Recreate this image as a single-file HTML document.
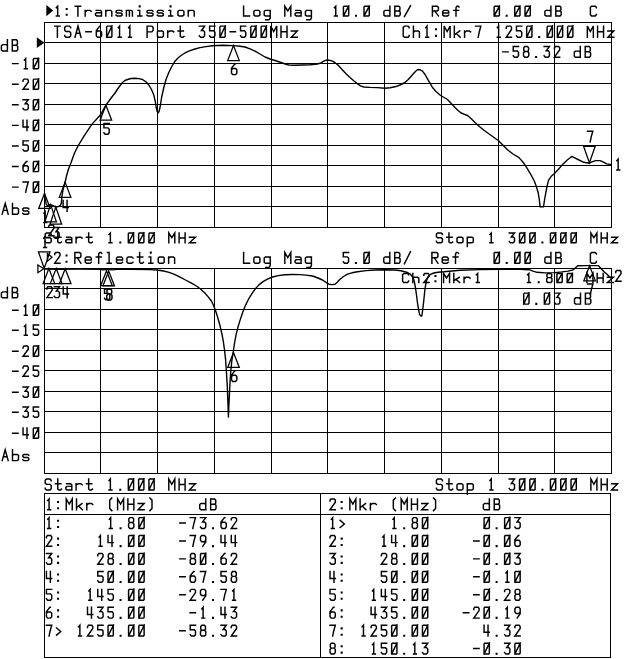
<!DOCTYPE html>
<html><head><meta charset="utf-8"><title>Network analyzer plot</title>
<style>
html,body{margin:0;padding:0;background:#fff;}
svg{display:block;}
text{font-family:"Liberation Mono",monospace;font-size:17.0px;fill:#000;fill-opacity:0;}
.g{fill:none;stroke:#000;stroke-width:1;shape-rendering:crispEdges;}
.t{fill:none;stroke:#000;stroke-width:1.4;stroke-linejoin:round;}
.m{fill:none;stroke:#000;stroke-width:1.25;stroke-linejoin:miter;}
.f{fill:none;stroke:#000;stroke-width:1.45;stroke-linejoin:miter;stroke-linecap:square;}
</style></head><body>
<svg width="640" height="659" viewBox="0 0 640 659">
<rect width="640" height="659" fill="#fff"/>
<path class="g" d="M44 22.5H612"/>
<path class="g" d="M44 42.5H612"/>
<path class="g" d="M44 63.5H612"/>
<path class="g" d="M44 83.5H612"/>
<path class="g" d="M44 104.5H612"/>
<path class="g" d="M44 124.5H612"/>
<path class="g" d="M44 145.5H612"/>
<path class="g" d="M44 165.5H612"/>
<path class="g" d="M44 186.5H612"/>
<path class="g" d="M44 206.5H612"/>
<path class="g" d="M44 227.5H612"/>
<path class="g" d="M44.5 22V228"/>
<path class="g" d="M100.5 22V228"/>
<path class="g" d="M157.5 22V228"/>
<path class="g" d="M214.5 22V228"/>
<path class="g" d="M271.5 22V228"/>
<path class="g" d="M327.5 22V228"/>
<path class="g" d="M384.5 22V228"/>
<path class="g" d="M441.5 22V228"/>
<path class="g" d="M498.5 22V228"/>
<path class="g" d="M554.5 22V228"/>
<path class="g" d="M611.5 22V228"/>
<path class="g" d="M44 268.5H612"/>
<path class="g" d="M44 288.5H612"/>
<path class="g" d="M44 309.5H612"/>
<path class="g" d="M44 329.5H612"/>
<path class="g" d="M44 350.5H612"/>
<path class="g" d="M44 370.5H612"/>
<path class="g" d="M44 391.5H612"/>
<path class="g" d="M44 411.5H612"/>
<path class="g" d="M44 432.5H612"/>
<path class="g" d="M44 452.5H612"/>
<path class="g" d="M44 473.5H612"/>
<path class="g" d="M44.5 268V474"/>
<path class="g" d="M100.5 268V474"/>
<path class="g" d="M157.5 268V474"/>
<path class="g" d="M214.5 268V474"/>
<path class="g" d="M271.5 268V474"/>
<path class="g" d="M327.5 268V474"/>
<path class="g" d="M384.5 268V474"/>
<path class="g" d="M441.5 268V474"/>
<path class="g" d="M498.5 268V474"/>
<path class="g" d="M554.5 268V474"/>
<path class="g" d="M611.5 268V474"/>
<polyline class="t" points="44.5,193.4 45.3,199.0 46.3,204.6 47.8,205.7 50.6,204.6 53.0,205.6 55.8,207.0 58.5,206.6 60.2,205.6 61.3,203.4 61.6,200.0 61.9,196.5 63.0,189.8 64.1,186.0 65.1,182.3 66.5,176.0 68.5,169.0 71.0,162.8 74.5,153.0 78.3,145.5 84.0,136.1 91.8,124.4 100.4,115.0 105.9,105.2 111.5,97.5 115.0,93.0 119.0,87.0 122.5,82.5 125.0,80.5 127.5,79.5 131.0,78.5 135.0,78.2 139.0,78.6 142.5,79.5 146.0,81.8 148.8,85.0 151.5,89.5 153.8,95.0 155.2,101.0 156.2,107.5 157.2,111.5 158.0,113.0 159.0,111.5 160.0,107.5 161.7,97.0 163.8,87.5 166.0,79.5 168.8,72.5 171.8,66.5 175.0,61.2 178.5,57.5 182.5,54.5 186.0,52.4 190.0,50.6 195.0,49.0 200.0,47.6 206.0,46.6 212.5,45.8 222.5,45.2 233.8,45.6 240.0,46.2 245.0,47.0 250.0,48.8 255.0,51.2 260.0,54.0 265.0,57.0 270.0,59.0 275.0,60.5 282.5,63.0 286.0,64.4 288.8,65.0 295.0,65.2 302.5,65.0 310.0,64.8 317.5,64.0 321.0,62.8 323.8,61.2 325.5,60.4 327.5,60.0 330.0,60.4 332.5,61.2 335.0,62.7 338.0,65.0 342.5,70.0 346.0,73.8 350.0,77.5 354.0,81.0 357.5,83.8 360.5,85.8 363.8,87.0 370.0,87.4 377.5,87.6 385.0,88.2 390.0,87.8 395.0,86.8 400.0,85.0 405.0,82.5 408.0,79.8 411.2,76.2 414.0,73.0 416.2,70.8 417.5,69.8 418.8,69.5 420.5,70.0 422.5,71.2 425.0,74.5 427.5,78.8 430.0,83.2 432.5,87.5 436.0,91.5 440.0,95.0 444.0,97.5 447.5,99.5 451.0,103.2 455.0,107.5 458.0,110.5 461.2,113.0 464.5,114.3 467.5,115.5 471.0,118.5 475.0,122.5 480.0,127.0 484.0,130.3 488.1,133.2 493.0,136.8 498.5,140.8 503.0,145.2 507.8,150.0 513.0,154.0 519.0,157.6 523.5,162.8 527.5,168.9 531.0,174.8 534.5,181.5 536.5,187.0 538.2,192.8 539.3,199.5 540.1,206.9 543.5,206.9 544.6,199.5 545.8,192.8 547.1,186.0 548.6,180.1 551.0,176.6 554.2,173.7 558.5,169.3 562.6,164.4 567.0,160.3 571.7,156.5 573.8,157.4 579.0,160.0 583.7,162.3 589.4,163.2 592.5,161.6 595.7,160.6 600.1,160.6 603.5,162.2 606.7,163.9 611.6,164.7"/>
<polyline class="t" points="44.5,269.1 60.0,269.2 80.0,269.1 100.0,269.3 103.0,269.8 108.0,269.3 112.0,269.9 117.0,269.3 130.0,269.3 150.0,269.6 157.0,270.0 163.7,271.0 169.0,272.4 174.6,274.4 180.0,277.2 185.5,280.0 191.0,282.8 196.4,286.0 200.5,289.0 204.6,292.8 208.0,296.6 211.4,301.0 213.6,305.5 215.5,310.5 217.6,317.0 219.6,324.2 221.5,332.0 223.2,340.6 224.5,350.0 225.6,359.7 226.5,373.0 227.3,387.0 227.9,402.0 228.4,417.1 228.9,405.0 229.5,392.5 230.1,381.0 230.8,370.6 231.8,361.0 233.0,353.7 234.4,344.0 236.0,335.1 238.0,327.0 240.1,320.1 242.8,312.0 245.6,305.1 249.0,298.3 252.4,292.8 255.8,288.3 259.2,284.6 263.0,281.6 267.4,279.2 272.5,277.0 278.3,275.6 285.0,274.8 292.0,274.5 300.0,274.6 306.0,275.1 312.5,276.0 318.0,278.0 322.5,280.0 326.0,282.4 328.8,284.2 332.0,284.6 335.0,284.2 337.5,282.0 340.0,279.2 343.5,276.5 347.5,274.2 352.0,272.8 357.5,271.8 366.0,270.6 375.0,270.0 385.0,269.8 395.0,270.0 401.0,270.8 407.5,272.5 410.3,274.2 412.5,276.8 414.2,281.0 415.5,288.0 416.5,295.0 417.5,303.0 418.5,309.0 419.5,314.2 420.6,316.0 421.8,316.0 422.8,309.0 423.8,300.5 424.6,292.5 425.5,285.5 426.7,280.0 428.0,276.8 430.5,274.3 433.8,273.0 438.0,272.2 443.8,271.8 452.0,271.0 460.0,270.3 480.0,269.6 500.0,269.3 520.0,269.3 529.0,269.7 533.0,271.2 537.0,272.3 545.0,272.9 555.0,272.6 562.0,271.9 568.0,271.1 573.0,269.9 575.5,267.8 577.8,265.8 587.0,265.6 598.3,265.6 601.0,268.5 603.8,271.4 607.5,274.8 611.4,278.5"/>
<path class="m" d="M44.5 193.4L38.7 208.4H50.3Z"/>
<path class="m" d="M50.6 204.6L44.8 221.8H56.4Z"/>
<path class="m" d="M55.8 207.0L50.0 224.2H61.6Z"/>
<path class="m" d="M65.1 182.3L59.3 197.3H70.9Z"/>
<path class="m" d="M105.9 105.2L100.1 120.2H111.7Z"/>
<path class="m" d="M233.5 45.6L227.7 60.6H239.3Z"/>
<path class="m" d="M589.4 162.8L583.6 146.3H595.2Z"/>
<path class="m" d="M44.2 268.3L38.4 251.8H50.0Z"/>
<path class="m" d="M48.9 268.6L43.1 283.6H54.7Z"/>
<path class="m" d="M56.2 268.6L50.4 283.6H62.0Z"/>
<path class="m" d="M65.2 268.7L59.4 283.7H71.0Z"/>
<path class="m" d="M106.5 270.7L100.7 285.7H112.3Z"/>
<path class="m" d="M233.5 352.4L227.7 367.4H239.3Z"/>
<path class="m" d="M108.7 270.9L102.9 285.9H114.5Z"/>
<path class="m" d="M589.6 265.8L583.8 280.8H595.4Z"/>
<path d="M36.8 37.3L44.4 42.7L36.8 48.1Z" fill="#000"/>
<path class="m" d="M37.9 264.9L43.8 268.8L37.9 272.7Z"/>
<path d="M46.3 5.0L53.2 10.6L46.3 16.2Z" fill="#000"/>
<path class="m" d="M47.4 253.4L52.0 257.3L47.4 261.2Z"/>
<path class="g" d="M44.5 657.5V493.5H610.5V657.5H44.5M320.5 493V658M44 514.5H611"/>
<g>
<path class="f" d="M43.84 213.16L45.16 211.62L45.16 222.40M43.84 222.40L46.74 222.40"/>
<path class="f" d="M48.62 227.18L48.62 226.17L49.61 225.02L52.91 225.02L53.90 226.17L53.90 228.25L48.62 235.80L53.90 235.80"/>
<path class="f" d="M53.82 227.42L59.10 227.42L55.93 231.73L57.91 231.73L59.10 233.12L59.10 236.81L57.91 238.20L55.01 238.20L53.82 236.81"/>
<path class="f" d="M63.12 200.52L63.12 207.60L68.40 207.60M67.08 200.52L67.08 211.30"/>
<path class="f" d="M109.20 123.42L103.92 123.42L103.92 127.89L108.01 127.89L109.20 129.27L109.20 132.81L108.01 134.20L105.11 134.20L103.92 132.81"/>
<path class="f" d="M235.48 63.82L234.95 63.82L231.52 68.13L231.52 73.21L232.71 74.60L235.61 74.60L236.80 73.21L236.80 69.83L235.61 68.44L232.71 68.44L231.52 69.83"/>
<path class="f" d="M587.52 131.22L592.80 131.22L591.22 136.92L590.16 142.00"/>
<path class="f" d="M43.64 238.26L44.96 236.72L44.96 247.50M43.64 247.50L46.54 247.50"/>
<path class="f" d="M46.92 288.98L46.92 287.98L47.91 286.82L51.21 286.82L52.20 287.98L52.20 290.05L46.92 297.60L52.20 297.60"/>
<path class="f" d="M54.22 286.82L59.50 286.82L56.33 291.13L58.31 291.13L59.50 292.52L59.50 296.21L58.31 297.60L55.41 297.60L54.22 296.21"/>
<path class="f" d="M63.22 286.92L63.22 294.00L68.50 294.00M67.18 286.92L67.18 297.70"/>
<path class="f" d="M109.80 288.92L104.52 288.92L104.52 293.39L108.61 293.39L109.80 294.77L109.80 298.31L108.61 299.70L105.71 299.70L104.52 298.31"/>
<path class="f" d="M235.48 370.62L234.95 370.62L231.52 374.93L231.52 380.01L232.71 381.40L235.61 381.40L236.80 380.01L236.80 376.63L235.61 375.24L232.71 375.24L231.52 376.63"/>
<path class="f" d="M107.91 294.05L106.98 292.97L106.98 290.35L108.04 289.12L110.68 289.12L111.74 290.35L111.74 292.97L110.81 294.05L107.91 294.05L106.72 295.43L106.72 298.51L107.91 299.90L110.81 299.90L112.00 298.51L112.00 295.43L110.81 294.05"/>
<path class="f" d="M587.62 284.02L592.90 284.02L591.32 289.72L590.26 294.80"/>
<path class="f" d="M616.84 160.66L618.16 159.12L618.16 169.90M616.84 169.90L619.74 169.90"/>
<path class="f" d="M615.72 272.58L615.72 271.57L616.71 270.42L620.01 270.42L621.00 271.57L621.00 273.65L615.72 281.20L621.00 281.20"/>
<path class="f" d="M56.34 7.62L57.66 6.24L57.66 15.90M56.34 15.90L59.24 15.90M66.40 14.93L67.00 14.93L67.00 14.38L66.40 14.38ZM66.40 9.28L67.00 9.28L67.00 8.72L66.40 8.72ZM75.20 6.24L80.60 6.24M77.90 6.24L77.90 15.90M85.20 15.90L85.20 10.38M85.20 11.82L87.15 10.38L90.00 10.38L91.20 11.26M96.25 10.38L100.30 10.38L101.50 11.26L101.50 15.90M101.50 12.70L96.70 12.70L95.50 13.58L95.50 15.02L96.70 15.90L101.50 15.90M105.80 15.90L105.80 10.38M105.80 11.48L107.30 10.38L110.60 10.38L111.80 11.26L111.80 15.90M122.10 11.15L121.05 10.38L117.15 10.38L116.10 11.15L116.10 12.26L117.15 13.03L121.05 13.03L122.10 13.80L122.10 15.13L121.05 15.90L117.15 15.90L116.10 15.13M126.40 15.90L126.40 10.38L131.35 10.38L132.40 11.15L132.40 15.90M129.40 10.38L129.40 15.90M139.40 6.86L140.00 6.86L140.00 6.03L139.40 6.03ZM138.05 10.38L139.70 10.38L139.70 15.90M137.75 15.90L141.80 15.90M153.00 11.15L151.95 10.38L148.05 10.38L147.00 11.15L147.00 12.26L148.05 13.03L151.95 13.03L153.00 13.80L153.00 15.13L151.95 15.90L148.05 15.90L147.00 15.13M163.30 11.15L162.25 10.38L158.35 10.38L157.30 11.15L157.30 12.26L158.35 13.03L162.25 13.03L163.30 13.80L163.30 15.13L162.25 15.90L158.35 15.90L157.30 15.13M170.30 6.86L170.90 6.86L170.90 6.03L170.30 6.03ZM168.95 10.38L170.60 10.38L170.60 15.90M168.65 15.90L172.70 15.90M179.10 15.90L182.70 15.90L183.90 15.02L183.90 11.26L182.70 10.38L179.10 10.38L177.90 11.26L177.90 15.02ZM188.20 15.90L188.20 10.38M188.20 11.48L189.70 10.38L193.00 10.38L194.20 11.26L194.20 15.90"/>
<path class="f" d="M243.60 6.24L243.60 15.90L249.60 15.90M255.10 15.90L258.70 15.90L259.90 15.02L259.90 11.26L258.70 10.38L255.10 10.38L253.90 11.26L253.90 15.02ZM270.20 11.26L269.00 10.38L265.40 10.38L264.20 11.26L264.20 15.02L265.40 15.90L270.20 15.90M270.20 10.38L270.20 18.23L269.00 19.67L265.70 19.67M284.80 15.90L284.80 6.24L287.80 10.93L290.80 6.24L290.80 15.90M295.85 10.38L299.90 10.38L301.10 11.26L301.10 15.90M301.10 12.70L296.30 12.70L295.10 13.58L295.10 15.02L296.30 15.90L301.10 15.90M311.40 11.26L310.20 10.38L306.60 10.38L305.40 11.26L305.40 15.02L306.60 15.90L311.40 15.90M311.40 10.38L311.40 18.23L310.20 19.67L306.90 19.67"/>
<path class="f" d="M334.44 7.62L335.76 6.24L335.76 15.90M334.44 15.90L337.34 15.90M344.08 15.90L348.04 15.90L348.70 15.21L348.70 6.93L348.04 6.24L344.08 6.24L343.42 6.93L343.42 15.21ZM343.42 15.90L348.83 5.96M355.70 15.97L356.30 15.97L356.30 15.42L355.70 15.42ZM364.68 15.90L368.64 15.90L369.30 15.21L369.30 6.93L368.64 6.24L364.68 6.24L364.02 6.93L364.02 15.21ZM364.02 15.90L369.43 5.96M389.90 6.24L389.90 15.90L385.10 15.90L383.90 15.02L383.90 11.26L385.10 10.38L388.70 10.38L389.90 11.26M394.80 15.90L394.80 6.24L398.85 6.24L399.93 7.34L399.93 9.83L398.85 10.93L394.80 10.93M398.85 10.93L399.12 10.93L400.20 12.04L400.20 14.80L399.12 15.90L394.80 15.90M404.50 16.45L410.50 5.69"/>
<path class="f" d="M432.40 15.90L432.40 6.24L437.20 6.24L438.40 7.34L438.40 9.97L437.20 11.07L432.40 11.07M434.80 11.07L438.40 15.90M442.70 13.03L448.70 13.03L448.70 11.26L447.50 10.38L443.90 10.38L442.70 11.26L442.70 15.02L443.90 15.90L447.50 15.90L448.70 15.02M459.00 7.07L458.25 6.24L456.90 6.24L456.00 7.69L456.00 15.90M453.60 10.38L458.55 10.38"/>
<path class="f" d="M494.78 15.90L498.74 15.90L499.40 15.21L499.40 6.93L498.74 6.24L494.78 6.24L494.12 6.93L494.12 15.21ZM494.12 15.90L499.53 5.96M506.40 15.97L507.00 15.97L507.00 15.42L506.40 15.42ZM515.38 15.90L519.34 15.90L520.00 15.21L520.00 6.93L519.34 6.24L515.38 6.24L514.72 6.93L514.72 15.21ZM514.72 15.90L520.13 5.96M525.68 15.90L529.64 15.90L530.30 15.21L530.30 6.93L529.64 6.24L525.68 6.24L525.02 6.93L525.02 15.21ZM525.02 15.90L530.43 5.96M550.90 6.24L550.90 15.90L546.10 15.90L544.90 15.02L544.90 11.26L546.10 10.38L549.70 10.38L550.90 11.26M555.80 15.90L555.80 6.24L559.85 6.24L560.93 7.34L560.93 9.83L559.85 10.93L555.80 10.93M559.85 10.93L560.12 10.93L561.20 12.04L561.20 14.80L560.12 15.90L555.80 15.90"/>
<path class="f" d="M596.40 7.76L596.40 7.34L595.20 6.24L591.60 6.24L590.40 7.34L590.40 14.80L591.60 15.90L595.20 15.90L596.40 14.80L596.40 14.38"/>
<path class="f" d="M54.72 254.58L54.72 253.57L55.71 252.42L59.01 252.42L60.00 253.57L60.00 255.65L54.72 263.20L60.00 263.20M66.22 262.12L66.82 262.12L66.82 261.51L66.22 261.51ZM66.22 255.81L66.82 255.81L66.82 255.19L66.22 255.19ZM74.84 263.20L74.84 252.42L79.64 252.42L80.84 253.65L80.84 256.58L79.64 257.81L74.84 257.81M77.24 257.81L80.84 263.20M85.26 260.00L91.26 260.00L91.26 258.03L90.06 257.04L86.46 257.04L85.26 258.03L85.26 262.21L86.46 263.20L90.06 263.20L91.26 262.21M101.68 253.34L100.93 252.42L99.58 252.42L98.68 254.04L98.68 263.20M96.28 257.04L101.23 257.04M107.45 252.42L109.10 252.42L109.10 263.20M107.15 263.20L111.20 263.20M116.52 260.00L122.52 260.00L122.52 258.03L121.32 257.04L117.72 257.04L116.52 258.03L116.52 262.21L117.72 263.20L121.32 263.20L122.52 262.21M132.94 258.03L131.74 257.04L128.14 257.04L126.94 258.03L126.94 262.21L128.14 263.20L131.74 263.20L132.94 262.21M139.61 252.42L139.61 262.21L140.81 263.20L142.31 263.20L143.36 262.34M137.36 257.04L142.76 257.04M150.48 253.11L151.08 253.11L151.08 252.19L150.48 252.19ZM149.13 257.04L150.78 257.04L150.78 263.20M148.83 263.20L152.88 263.20M159.40 263.20L163.00 263.20L164.20 262.21L164.20 258.03L163.00 257.04L159.40 257.04L158.20 258.03L158.20 262.21ZM168.62 263.20L168.62 257.04M168.62 258.27L170.12 257.04L173.42 257.04L174.62 258.03L174.62 263.20"/>
<path class="f" d="M243.60 252.42L243.60 263.20L249.60 263.20M255.10 263.20L258.70 263.20L259.90 262.21L259.90 258.03L258.70 257.04L255.10 257.04L253.90 258.03L253.90 262.21ZM270.20 258.03L269.00 257.04L265.40 257.04L264.20 258.03L264.20 262.21L265.40 263.20L270.20 263.20M270.20 257.04L270.20 265.80L269.00 267.40L265.70 267.40M284.80 263.20L284.80 252.42L287.80 257.66L290.80 252.42L290.80 263.20M295.85 257.04L299.90 257.04L301.10 258.03L301.10 263.20M301.10 259.63L296.30 259.63L295.10 260.61L295.10 262.21L296.30 263.20L301.10 263.20M311.40 258.03L310.20 257.04L306.60 257.04L305.40 258.03L305.40 262.21L306.60 263.20L311.40 263.20M311.40 257.04L311.40 265.80L310.20 267.40L306.90 267.40"/>
<path class="f" d="M348.60 252.42L343.32 252.42L343.32 256.89L347.41 256.89L348.60 258.27L348.60 261.81L347.41 263.20L344.51 263.20L343.32 261.81M355.60 263.28L356.20 263.28L356.20 262.66L355.60 262.66ZM364.58 263.20L368.54 263.20L369.20 262.43L369.20 253.19L368.54 252.42L364.58 252.42L363.92 253.19L363.92 262.43ZM363.92 263.20L369.33 252.11M389.80 252.42L389.80 263.20L385.00 263.20L383.80 262.21L383.80 258.03L385.00 257.04L388.60 257.04L389.80 258.03M394.70 263.20L394.70 252.42L398.75 252.42L399.83 253.65L399.83 256.42L398.75 257.66L394.70 257.66M398.75 257.66L399.02 257.66L400.10 258.89L400.10 261.97L399.02 263.20L394.70 263.20M404.40 263.82L410.40 251.80"/>
<path class="f" d="M431.90 263.20L431.90 252.42L436.70 252.42L437.90 253.65L437.90 256.58L436.70 257.81L431.90 257.81M434.30 257.81L437.90 263.20M442.20 260.00L448.20 260.00L448.20 258.03L447.00 257.04L443.40 257.04L442.20 258.03L442.20 262.21L443.40 263.20L447.00 263.20L448.20 262.21M458.50 253.34L457.75 252.42L456.40 252.42L455.50 254.04L455.50 263.20M453.10 257.04L458.05 257.04"/>
<path class="f" d="M494.78 263.20L498.74 263.20L499.40 262.43L499.40 253.19L498.74 252.42L494.78 252.42L494.12 253.19L494.12 262.43ZM494.12 263.20L499.53 252.11M506.40 263.28L507.00 263.28L507.00 262.66L506.40 262.66ZM515.38 263.20L519.34 263.20L520.00 262.43L520.00 253.19L519.34 252.42L515.38 252.42L514.72 253.19L514.72 262.43ZM514.72 263.20L520.13 252.11M525.68 263.20L529.64 263.20L530.30 262.43L530.30 253.19L529.64 252.42L525.68 252.42L525.02 253.19L525.02 262.43ZM525.02 263.20L530.43 252.11M550.90 252.42L550.90 263.20L546.10 263.20L544.90 262.21L544.90 258.03L546.10 257.04L549.70 257.04L550.90 258.03M555.80 263.20L555.80 252.42L559.85 252.42L560.93 253.65L560.93 256.42L559.85 257.66L555.80 257.66M559.85 257.66L560.12 257.66L561.20 258.89L561.20 261.97L560.12 263.20L555.80 263.20"/>
<path class="f" d="M596.40 254.11L596.40 253.65L595.20 252.42L591.60 252.42L590.40 253.65L590.40 261.97L591.60 263.20L595.20 263.20L596.40 261.97L596.40 261.51"/>
<path class="f" d="M54.70 26.10L60.10 26.10M57.40 26.10L57.40 37.30M70.70 27.86L70.70 27.38L69.50 26.10L65.90 26.10L64.70 27.38L64.70 30.26L65.90 31.54L69.50 31.54L70.70 32.82L70.70 36.02L69.50 37.30L65.90 37.30L64.70 36.02L64.70 35.54M75.00 37.30L78.00 26.10L81.00 37.30M76.12 33.30L79.88 33.30M85.89 31.70L91.30 31.70M100.28 26.10L99.75 26.10L96.32 30.58L96.32 35.86L97.51 37.30L100.41 37.30L101.60 35.86L101.60 32.34L100.41 30.90L97.51 30.90L96.32 32.34M107.28 37.30L111.24 37.30L111.90 36.50L111.90 26.90L111.24 26.10L107.28 26.10L106.62 26.90L106.62 36.50ZM106.62 37.30L112.03 25.78M118.24 27.70L119.56 26.10L119.56 37.30M118.24 37.30L121.14 37.30M128.54 27.70L129.86 26.10L129.86 37.30M128.54 37.30L131.44 37.30M147.10 37.30L147.10 26.10L151.90 26.10L153.10 27.38L153.10 30.58L151.90 31.86L147.10 31.86M158.60 37.30L162.20 37.30L163.40 36.28L163.40 31.92L162.20 30.90L158.60 30.90L157.40 31.92L157.40 36.28ZM167.70 37.30L167.70 30.90M167.70 32.56L169.65 30.90L172.50 30.90L173.70 31.92M180.25 26.10L180.25 36.28L181.45 37.30L182.95 37.30L184.00 36.40M178.00 30.90L183.40 30.90M199.32 26.10L204.60 26.10L201.43 30.58L203.41 30.58L204.60 32.02L204.60 35.86L203.41 37.30L200.51 37.30L199.32 35.86M214.90 26.10L209.62 26.10L209.62 30.74L213.71 30.74L214.90 32.18L214.90 35.86L213.71 37.30L210.81 37.30L209.62 35.86M220.58 37.30L224.54 37.30L225.20 36.50L225.20 26.90L224.54 26.10L220.58 26.10L219.92 26.90L219.92 36.50ZM219.92 37.30L225.33 25.78M230.09 31.70L235.50 31.70M245.80 26.10L240.52 26.10L240.52 30.74L244.61 30.74L245.80 32.18L245.80 35.86L244.61 37.30L241.71 37.30L240.52 35.86M251.48 37.30L255.44 37.30L256.10 36.50L256.10 26.90L255.44 26.10L251.48 26.10L250.82 26.90L250.82 36.50ZM250.82 37.30L256.23 25.78M261.78 37.30L265.74 37.30L266.40 36.50L266.40 26.90L265.74 26.10L261.78 26.10L261.12 26.90L261.12 36.50ZM261.12 37.30L266.53 25.78M270.70 37.30L270.70 26.10L273.70 31.54L276.70 26.10L276.70 37.30M281.00 37.30L281.00 26.10M287.00 37.30L287.00 26.10M281.00 31.70L287.00 31.70M291.30 30.90L297.30 30.90L291.30 37.30L297.30 37.30"/>
<path class="f" d="M409.20 27.86L409.20 27.38L408.00 26.10L404.40 26.10L403.20 27.38L403.20 36.02L404.40 37.30L408.00 37.30L409.20 36.02L409.20 35.54M413.43 26.10L413.43 37.30M413.43 32.18L414.93 30.90L418.23 30.90L419.43 31.92L419.43 37.30M425.70 27.70L427.02 26.10L427.02 37.30M425.70 37.30L428.60 37.30M435.69 36.18L436.29 36.18L436.29 35.54L435.69 35.54ZM435.69 29.62L436.29 29.62L436.29 28.98L435.69 28.98ZM444.12 37.30L444.12 26.10L447.12 31.54L450.12 26.10L450.12 37.30M454.35 26.10L454.35 37.30M454.35 35.00L459.75 30.90M456.45 33.40L460.20 37.30M464.58 37.30L464.58 30.90M464.58 32.56L466.53 30.90L469.38 30.90L470.58 31.92M475.53 26.10L480.81 26.10L479.23 32.02L478.17 37.30M497.31 27.70L498.63 26.10L498.63 37.30M497.31 37.30L500.21 37.30M506.22 28.34L506.22 27.30L507.21 26.10L510.51 26.10L511.50 27.30L511.50 29.46L506.22 37.30L511.50 37.30M521.73 26.10L516.45 26.10L516.45 30.74L520.54 30.74L521.73 32.18L521.73 35.86L520.54 37.30L517.64 37.30L516.45 35.86M527.34 37.30L531.30 37.30L531.96 36.50L531.96 26.90L531.30 26.10L527.34 26.10L526.68 26.90L526.68 36.50ZM526.68 37.30L532.09 25.78M538.89 37.38L539.49 37.38L539.49 36.74L538.89 36.74ZM547.80 37.30L551.76 37.30L552.42 36.50L552.42 26.90L551.76 26.10L547.80 26.10L547.14 26.90L547.14 36.50ZM547.14 37.30L552.55 25.78M558.03 37.30L561.99 37.30L562.65 36.50L562.65 26.90L561.99 26.10L558.03 26.10L557.37 26.90L557.37 36.50ZM557.37 37.30L562.78 25.78M568.26 37.30L572.22 37.30L572.88 36.50L572.88 26.90L572.22 26.10L568.26 26.10L567.60 26.90L567.60 36.50ZM567.60 37.30L573.01 25.78M587.34 37.30L587.34 26.10L590.34 31.54L593.34 26.10L593.34 37.30M597.57 37.30L597.57 26.10M603.57 37.30L603.57 26.10M597.57 31.70L603.57 31.70M607.80 30.90L613.80 30.90L607.80 37.30L613.80 37.30"/>
<path class="f" d="M502.79 51.88L508.20 51.88M518.50 46.56L513.22 46.56L513.22 50.97L517.31 50.97L518.50 52.34L518.50 55.83L517.31 57.20L514.41 57.20L513.22 55.83M524.71 51.42L523.78 50.36L523.78 47.78L524.84 46.56L527.48 46.56L528.54 47.78L528.54 50.36L527.61 51.42L524.71 51.42L523.52 52.79L523.52 55.83L524.71 57.20L527.61 57.20L528.80 55.83L528.80 52.79L527.61 51.42M535.80 57.28L536.40 57.28L536.40 56.67L535.80 56.67ZM544.12 46.56L549.40 46.56L546.23 50.82L548.21 50.82L549.40 52.18L549.40 55.83L548.21 57.20L545.31 57.20L544.12 55.83M554.42 48.69L554.42 47.70L555.41 46.56L558.71 46.56L559.70 47.70L559.70 49.75L554.42 57.20L559.70 57.20M580.30 46.56L580.30 57.20L575.50 57.20L574.30 56.23L574.30 52.09L575.50 51.12L579.10 51.12L580.30 52.09M585.20 57.20L585.20 46.56L589.25 46.56L590.33 47.78L590.33 50.51L589.25 51.73L585.20 51.73M589.25 51.73L589.52 51.73L590.60 52.94L590.60 55.98L589.52 57.20L585.20 57.20"/>
<path class="f" d="M408.60 274.89L408.60 274.50L407.40 273.47L403.80 273.47L402.60 274.50L402.60 281.47L403.80 282.50L407.40 282.50L408.60 281.47L408.60 281.08M412.84 273.47L412.84 282.50M412.84 278.37L414.34 277.34L417.64 277.34L418.84 278.17L418.84 282.50M423.80 275.28L423.80 274.44L424.79 273.47L428.09 273.47L429.08 274.44L429.08 276.18L423.80 282.50L429.08 282.50M435.12 281.60L435.72 281.60L435.72 281.08L435.12 281.08ZM435.12 276.31L435.72 276.31L435.72 275.79L435.12 275.79ZM443.56 282.50L443.56 273.47L446.56 277.86L449.56 273.47L449.56 282.50M453.80 273.47L453.80 282.50M453.80 280.64L459.20 277.34M455.90 279.35L459.65 282.50M464.04 282.50L464.04 277.34M464.04 278.68L465.99 277.34L468.84 277.34L470.04 278.17M476.32 274.76L477.64 273.47L477.64 282.50M476.32 282.50L479.22 282.50M527.52 274.76L528.84 273.47L528.84 282.50M527.52 282.50L530.42 282.50M538.42 282.56L539.02 282.56L539.02 282.05L538.42 282.05ZM547.87 277.60L546.94 276.69L546.94 274.50L548.00 273.47L550.64 273.47L551.70 274.50L551.70 276.69L550.77 277.60L547.87 277.60L546.68 278.76L546.68 281.34L547.87 282.50L550.77 282.50L551.96 281.34L551.96 278.76L550.77 277.60M557.58 282.50L561.54 282.50L562.20 281.86L562.20 274.12L561.54 273.47L557.58 273.47L556.92 274.12L556.92 281.86ZM556.92 282.50L562.33 273.21M567.82 282.50L571.78 282.50L572.44 281.86L572.44 274.12L571.78 273.47L567.82 273.47L567.16 274.12L567.16 281.86ZM567.16 282.50L572.57 273.21M586.92 282.50L586.92 273.47L589.92 277.86L592.92 273.47L592.92 282.50M597.16 282.50L597.16 273.47M603.16 282.50L603.16 273.47M597.16 277.99L603.16 277.99M607.40 277.34L613.40 277.34L607.40 282.50L613.40 282.50"/>
<path class="f" d="M524.38 304.10L528.34 304.10L529.00 303.31L529.00 293.90L528.34 293.11L524.38 293.11L523.72 293.90L523.72 303.31ZM523.72 304.10L529.13 292.80M536.00 304.18L536.60 304.18L536.60 303.55L536.00 303.55ZM544.98 304.10L548.94 304.10L549.60 303.31L549.60 293.90L548.94 293.11L544.98 293.11L544.32 293.90L544.32 303.31ZM544.32 304.10L549.73 292.80M554.62 293.11L559.90 293.11L556.73 297.51L558.71 297.51L559.90 298.92L559.90 302.69L558.71 304.10L555.81 304.10L554.62 302.69M580.50 293.11L580.50 304.10L575.70 304.10L574.50 303.10L574.50 298.82L575.70 297.82L579.30 297.82L580.50 298.82M585.40 304.10L585.40 293.11L589.45 293.11L590.53 294.37L590.53 297.19L589.45 298.45L585.40 298.45M589.45 298.45L589.72 298.45L590.80 299.70L590.80 302.84L589.72 304.10L585.40 304.10"/>
<path class="f" d="M51.20 234.54L51.20 234.12L50.00 233.00L46.40 233.00L45.20 234.12L45.20 236.64L46.40 237.76L50.00 237.76L51.20 238.88L51.20 241.68L50.00 242.80L46.40 242.80L45.20 241.68L45.20 241.26M57.75 233.00L57.75 241.90L58.95 242.80L60.45 242.80L61.50 242.02M55.50 237.20L60.90 237.20M66.55 237.20L70.60 237.20L71.80 238.10L71.80 242.80M71.80 239.55L67.00 239.55L65.80 240.45L65.80 241.90L67.00 242.80L71.80 242.80M76.10 242.80L76.10 237.20M76.10 238.66L78.05 237.20L80.90 237.20L82.10 238.10M88.65 233.00L88.65 241.90L89.85 242.80L91.35 242.80L92.40 242.02M86.40 237.20L91.80 237.20M109.04 234.40L110.36 233.00L110.36 242.80M109.04 242.80L111.94 242.80M120.00 242.87L120.60 242.87L120.60 242.31L120.00 242.31ZM128.98 242.80L132.94 242.80L133.60 242.10L133.60 233.70L132.94 233.00L128.98 233.00L128.32 233.70L128.32 242.10ZM128.32 242.80L133.73 232.72M139.28 242.80L143.24 242.80L143.90 242.10L143.90 233.70L143.24 233.00L139.28 233.00L138.62 233.70L138.62 242.10ZM138.62 242.80L144.03 232.72M149.58 242.80L153.54 242.80L154.20 242.10L154.20 233.70L153.54 233.00L149.58 233.00L148.92 233.70L148.92 242.10ZM148.92 242.80L154.33 232.72M168.80 242.80L168.80 233.00L171.80 237.76L174.80 233.00L174.80 242.80M179.10 242.80L179.10 233.00M185.10 242.80L185.10 233.00M179.10 237.90L185.10 237.90M189.40 237.20L195.40 237.20L189.40 242.80L195.40 242.80"/>
<path class="f" d="M442.40 234.54L442.40 234.12L441.20 233.00L437.60 233.00L436.40 234.12L436.40 236.64L437.60 237.76L441.20 237.76L442.40 238.88L442.40 241.68L441.20 242.80L437.60 242.80L436.40 241.68L436.40 241.26M448.95 233.00L448.95 241.90L450.15 242.80L451.65 242.80L452.70 242.02M446.70 237.20L452.10 237.20M458.20 242.80L461.80 242.80L463.00 241.90L463.00 238.10L461.80 237.20L458.20 237.20L457.00 238.10L457.00 241.90ZM467.30 246.62L467.30 237.20M467.30 238.10L468.50 237.20L472.10 237.20L473.30 238.10L473.30 241.90L472.10 242.80L467.30 242.80M489.94 234.40L491.26 233.00L491.26 242.80M489.94 242.80L492.84 242.80M509.22 233.00L514.50 233.00L511.33 236.92L513.31 236.92L514.50 238.18L514.50 241.54L513.31 242.80L510.41 242.80L509.22 241.54M520.18 242.80L524.14 242.80L524.80 242.10L524.80 233.70L524.14 233.00L520.18 233.00L519.52 233.70L519.52 242.10ZM519.52 242.80L524.93 232.72M530.48 242.80L534.44 242.80L535.10 242.10L535.10 233.70L534.44 233.00L530.48 233.00L529.82 233.70L529.82 242.10ZM529.82 242.80L535.23 232.72M542.10 242.87L542.70 242.87L542.70 242.31L542.10 242.31ZM551.08 242.80L555.04 242.80L555.70 242.10L555.70 233.70L555.04 233.00L551.08 233.00L550.42 233.70L550.42 242.10ZM550.42 242.80L555.83 232.72M561.38 242.80L565.34 242.80L566.00 242.10L566.00 233.70L565.34 233.00L561.38 233.00L560.72 233.70L560.72 242.10ZM560.72 242.80L566.13 232.72M571.68 242.80L575.64 242.80L576.30 242.10L576.30 233.70L575.64 233.00L571.68 233.00L571.02 233.70L571.02 242.10ZM571.02 242.80L576.43 232.72M590.90 242.80L590.90 233.00L593.90 237.76L596.90 233.00L596.90 242.80M601.20 242.80L601.20 233.00M607.20 242.80L607.20 233.00M601.20 237.90L607.20 237.90M611.50 237.20L617.50 237.20L611.50 242.80L617.50 242.80"/>
<path class="f" d="M51.20 480.74L51.20 480.27L50.00 479.01L46.40 479.01L45.20 480.27L45.20 483.09L46.40 484.35L50.00 484.35L51.20 485.60L51.20 488.74L50.00 490.00L46.40 490.00L45.20 488.74L45.20 488.27M57.75 479.01L57.75 489.00L58.95 490.00L60.45 490.00L61.50 489.12M55.50 483.72L60.90 483.72M66.55 483.72L70.60 483.72L71.80 484.72L71.80 490.00M71.80 486.36L67.00 486.36L65.80 487.36L65.80 489.00L67.00 490.00L71.80 490.00M76.10 490.00L76.10 483.72M76.10 485.35L78.05 483.72L80.90 483.72L82.10 484.72M88.65 479.01L88.65 489.00L89.85 490.00L91.35 490.00L92.40 489.12M86.40 483.72L91.80 483.72M109.04 480.58L110.36 479.01L110.36 490.00M109.04 490.00L111.94 490.00M120.00 490.08L120.60 490.08L120.60 489.45L120.00 489.45ZM128.98 490.00L132.94 490.00L133.60 489.21L133.60 479.80L132.94 479.01L128.98 479.01L128.32 479.80L128.32 489.21ZM128.32 490.00L133.73 478.70M139.28 490.00L143.24 490.00L143.90 489.21L143.90 479.80L143.24 479.01L139.28 479.01L138.62 479.80L138.62 489.21ZM138.62 490.00L144.03 478.70M149.58 490.00L153.54 490.00L154.20 489.21L154.20 479.80L153.54 479.01L149.58 479.01L148.92 479.80L148.92 489.21ZM148.92 490.00L154.33 478.70M168.80 490.00L168.80 479.01L171.80 484.35L174.80 479.01L174.80 490.00M179.10 490.00L179.10 479.01M185.10 490.00L185.10 479.01M179.10 484.50L185.10 484.50M189.40 483.72L195.40 483.72L189.40 490.00L195.40 490.00"/>
<path class="f" d="M442.40 480.74L442.40 480.27L441.20 479.01L437.60 479.01L436.40 480.27L436.40 483.09L437.60 484.35L441.20 484.35L442.40 485.60L442.40 488.74L441.20 490.00L437.60 490.00L436.40 488.74L436.40 488.27M448.95 479.01L448.95 489.00L450.15 490.00L451.65 490.00L452.70 489.12M446.70 483.72L452.10 483.72M458.20 490.00L461.80 490.00L463.00 489.00L463.00 484.72L461.80 483.72L458.20 483.72L457.00 484.72L457.00 489.00ZM467.30 494.29L467.30 483.72M467.30 484.72L468.50 483.72L472.10 483.72L473.30 484.72L473.30 489.00L472.10 490.00L467.30 490.00M489.94 480.58L491.26 479.01L491.26 490.00M489.94 490.00L492.84 490.00M509.22 479.01L514.50 479.01L511.33 483.41L513.31 483.41L514.50 484.82L514.50 488.59L513.31 490.00L510.41 490.00L509.22 488.59M520.18 490.00L524.14 490.00L524.80 489.21L524.80 479.80L524.14 479.01L520.18 479.01L519.52 479.80L519.52 489.21ZM519.52 490.00L524.93 478.70M530.48 490.00L534.44 490.00L535.10 489.21L535.10 479.80L534.44 479.01L530.48 479.01L529.82 479.80L529.82 489.21ZM529.82 490.00L535.23 478.70M542.10 490.08L542.70 490.08L542.70 489.45L542.10 489.45ZM551.08 490.00L555.04 490.00L555.70 489.21L555.70 479.80L555.04 479.01L551.08 479.01L550.42 479.80L550.42 489.21ZM550.42 490.00L555.83 478.70M561.38 490.00L565.34 490.00L566.00 489.21L566.00 479.80L565.34 479.01L561.38 479.01L560.72 479.80L560.72 489.21ZM560.72 490.00L566.13 478.70M571.68 490.00L575.64 490.00L576.30 489.21L576.30 479.80L575.64 479.01L571.68 479.01L571.02 479.80L571.02 489.21ZM571.02 490.00L576.43 478.70M590.90 490.00L590.90 479.01L593.90 484.35L596.90 479.01L596.90 490.00M601.20 490.00L601.20 479.01M607.20 490.00L607.20 479.01M601.20 484.50L607.20 484.50M611.50 483.72L617.50 483.72L611.50 490.00L617.50 490.00"/>
<path class="f" d="M7.40 39.80L7.40 51.00L2.60 51.00L1.40 49.98L1.40 45.62L2.60 44.60L6.20 44.60L7.40 45.62M12.30 51.00L12.30 39.80L16.35 39.80L17.43 41.08L17.43 43.96L16.35 45.24L12.30 45.24M16.35 45.24L16.62 45.24L17.70 46.52L17.70 49.72L16.62 51.00L12.30 51.00"/>
<path class="f" d="M12.59 63.62L18.00 63.62M24.34 60.00L25.66 58.55L25.66 68.70M24.34 68.70L27.24 68.70M33.98 68.70L37.94 68.70L38.60 67.98L38.60 59.28L37.94 58.55L33.98 58.55L33.32 59.28L33.32 67.98ZM33.32 68.70L38.73 58.26"/>
<path class="f" d="M12.59 84.20L18.00 84.20M23.02 81.16L23.02 80.22L24.01 79.13L27.31 79.13L28.30 80.22L28.30 82.17L23.02 89.28L28.30 89.28M33.98 89.28L37.94 89.28L38.60 88.56L38.60 79.86L37.94 79.13L33.98 79.13L33.32 79.86L33.32 88.56ZM33.32 89.28L38.73 78.84"/>
<path class="f" d="M12.59 104.78L18.00 104.78M23.02 99.71L28.30 99.71L25.13 103.77L27.11 103.77L28.30 105.08L28.30 108.55L27.11 109.86L24.21 109.86L23.02 108.55M33.98 109.86L37.94 109.86L38.60 109.14L38.60 100.44L37.94 99.71L33.98 99.71L33.32 100.44L33.32 109.14ZM33.32 109.86L38.73 99.42"/>
<path class="f" d="M12.59 125.36L18.00 125.36M23.02 120.29L23.02 126.96L28.30 126.96M26.98 120.29L26.98 130.44M33.98 130.44L37.94 130.44L38.60 129.72L38.60 121.02L37.94 120.29L33.98 120.29L33.32 121.02L33.32 129.72ZM33.32 130.44L38.73 120.00"/>
<path class="f" d="M12.59 145.94L18.00 145.94M28.30 140.87L23.02 140.87L23.02 145.07L27.11 145.07L28.30 146.38L28.30 149.71L27.11 151.02L24.21 151.02L23.02 149.71M33.98 151.02L37.94 151.02L38.60 150.29L38.60 141.59L37.94 140.87L33.98 140.87L33.32 141.59L33.32 150.29ZM33.32 151.02L38.73 140.58"/>
<path class="f" d="M12.59 166.53L18.00 166.53M26.98 161.45L26.45 161.45L23.02 165.51L23.02 170.29L24.21 171.60L27.11 171.60L28.30 170.29L28.30 167.10L27.11 165.80L24.21 165.80L23.02 167.10M33.98 171.60L37.94 171.60L38.60 170.88L38.60 162.17L37.94 161.45L33.98 161.45L33.32 162.17L33.32 170.88ZM33.32 171.60L38.73 161.16"/>
<path class="f" d="M12.59 187.11L18.00 187.11M23.02 182.03L28.30 182.03L26.72 187.40L25.66 192.18M33.98 192.18L37.94 192.18L38.60 191.46L38.60 182.75L37.94 182.03L33.98 182.03L33.32 182.75L33.32 191.46ZM33.32 192.18L38.73 181.74"/>
<path class="f" d="M2.20 214.20L5.20 203.42L8.20 214.20M3.33 210.35L7.08 210.35M12.50 203.42L12.50 214.20L17.30 214.20L18.50 213.21L18.50 209.03L17.30 208.04L13.70 208.04L12.50 209.03M28.80 208.90L27.75 208.04L23.85 208.04L22.80 208.90L22.80 210.13L23.85 211.00L27.75 211.00L28.80 211.86L28.80 213.34L27.75 214.20L23.85 214.20L22.80 213.34"/>
<path class="f" d="M7.40 287.44L7.40 297.80L2.60 297.80L1.40 296.85L1.40 292.83L2.60 291.88L6.20 291.88L7.40 292.83M12.30 297.80L12.30 287.44L16.35 287.44L17.43 288.62L17.43 291.29L16.35 292.47L12.30 292.47M16.35 292.47L16.62 292.47L17.70 293.66L17.70 296.62L16.62 297.80L12.30 297.80"/>
<path class="f" d="M12.59 310.19L18.00 310.19M24.34 306.54L25.66 305.08L25.66 315.30M24.34 315.30L27.24 315.30M33.98 315.30L37.94 315.30L38.60 314.57L38.60 305.81L37.94 305.08L33.98 305.08L33.32 305.81L33.32 314.57ZM33.32 315.30L38.73 304.79"/>
<path class="f" d="M12.59 330.19L18.00 330.19M24.34 326.54L25.66 325.08L25.66 335.30M24.34 335.30L27.24 335.30M38.60 325.08L33.32 325.08L33.32 329.31L37.41 329.31L38.60 330.63L38.60 333.99L37.41 335.30L34.51 335.30L33.32 333.99"/>
<path class="f" d="M12.59 351.19L18.00 351.19M23.02 348.12L23.02 347.18L24.01 346.08L27.31 346.08L28.30 347.18L28.30 349.15L23.02 356.30L28.30 356.30M33.98 356.30L37.94 356.30L38.60 355.57L38.60 346.81L37.94 346.08L33.98 346.08L33.32 346.81L33.32 355.57ZM33.32 356.30L38.73 345.79"/>
<path class="f" d="M12.59 371.19L18.00 371.19M23.02 368.12L23.02 367.18L24.01 366.08L27.31 366.08L28.30 367.18L28.30 369.15L23.02 376.30L28.30 376.30M38.60 366.08L33.32 366.08L33.32 370.31L37.41 370.31L38.60 371.63L38.60 374.99L37.41 376.30L34.51 376.30L33.32 374.99"/>
<path class="f" d="M12.59 392.19L18.00 392.19M23.02 387.08L28.30 387.08L25.13 391.17L27.11 391.17L28.30 392.48L28.30 395.99L27.11 397.30L24.21 397.30L23.02 395.99M33.98 397.30L37.94 397.30L38.60 396.57L38.60 387.81L37.94 387.08L33.98 387.08L33.32 387.81L33.32 396.57ZM33.32 397.30L38.73 386.79"/>
<path class="f" d="M12.59 412.19L18.00 412.19M23.02 407.08L28.30 407.08L25.13 411.17L27.11 411.17L28.30 412.48L28.30 415.99L27.11 417.30L24.21 417.30L23.02 415.99M38.60 407.08L33.32 407.08L33.32 411.31L37.41 411.31L38.60 412.63L38.60 415.99L37.41 417.30L34.51 417.30L33.32 415.99"/>
<path class="f" d="M12.59 433.19L18.00 433.19M23.02 428.08L23.02 434.80L28.30 434.80M26.98 428.08L26.98 438.30M33.98 438.30L37.94 438.30L38.60 437.57L38.60 428.81L37.94 428.08L33.98 428.08L33.32 428.81L33.32 437.57ZM33.32 438.30L38.73 427.79"/>
<path class="f" d="M2.20 460.60L5.20 449.82L8.20 460.60M3.33 456.75L7.08 456.75M12.50 449.82L12.50 460.60L17.30 460.60L18.50 459.61L18.50 455.43L17.30 454.44L13.70 454.44L12.50 455.43M28.80 455.30L27.75 454.44L23.85 454.44L22.80 455.30L22.80 456.53L23.85 457.40L27.75 457.40L28.80 458.26L28.80 459.74L27.75 460.60L23.85 460.60L22.80 459.74"/>
<path class="f" d="M47.74 500.46L49.06 498.92L49.06 509.70M47.74 509.70L50.64 509.70M57.77 508.62L58.37 508.62L58.37 508.01L57.77 508.01ZM57.77 502.31L58.37 502.31L58.37 501.69L57.77 501.69ZM66.24 509.70L66.24 498.92L69.24 504.16L72.24 498.92L72.24 509.70M76.51 498.92L76.51 509.70M76.51 507.48L81.91 503.54M78.61 505.94L82.36 509.70M86.78 509.70L86.78 503.54M86.78 505.14L88.73 503.54L91.58 503.54L92.78 504.53M111.82 498.00L109.72 500.15L109.72 508.47L111.82 510.62M117.59 509.70L117.59 498.92L120.59 504.16L123.59 498.92L123.59 509.70M127.86 509.70L127.86 498.92M133.86 509.70L133.86 498.92M127.86 504.31L133.86 504.31M138.13 503.54L144.13 503.54L138.13 509.70L144.13 509.70M149.90 498.00L152.00 500.15L152.00 508.47L149.90 510.62M205.75 498.92L205.75 509.70L200.95 509.70L199.75 508.71L199.75 504.53L200.95 503.54L204.55 503.54L205.75 504.53M210.62 509.70L210.62 498.92L214.67 498.92L215.75 500.15L215.75 502.92L214.67 504.16L210.62 504.16M214.67 504.16L214.94 504.16L216.02 505.39L216.02 508.47L214.94 509.70L210.62 509.70"/>
<path class="f" d="M47.74 519.16L49.06 517.62L49.06 528.40M47.74 528.40L50.64 528.40M57.77 527.32L58.37 527.32L58.37 526.71L57.77 526.71ZM57.77 521.01L58.37 521.01L58.37 520.39L57.77 520.39ZM109.36 519.16L110.68 517.62L110.68 528.40M109.36 528.40L112.26 528.40M120.29 528.48L120.89 528.48L120.89 527.86L120.29 527.86ZM129.77 522.55L128.84 521.47L128.84 518.85L129.90 517.62L132.54 517.62L133.60 518.85L133.60 521.47L132.67 522.55L129.77 522.55L128.58 523.93L128.58 527.01L129.77 528.40L132.67 528.40L133.86 527.01L133.86 523.93L132.67 522.55M139.51 528.40L143.47 528.40L144.13 527.63L144.13 518.39L143.47 517.62L139.51 517.62L138.85 518.39L138.85 527.63ZM138.85 528.40L144.26 517.31M179.80 523.01L185.21 523.01M190.20 517.62L195.48 517.62L193.90 523.32L192.84 528.40M200.47 517.62L205.75 517.62L202.58 521.93L204.56 521.93L205.75 523.32L205.75 527.01L204.56 528.40L201.66 528.40L200.47 527.01M212.72 528.48L213.32 528.48L213.32 527.86L212.72 527.86ZM224.97 517.62L224.44 517.62L221.01 521.93L221.01 527.01L222.20 528.40L225.10 528.40L226.29 527.01L226.29 523.63L225.10 522.24L222.20 522.24L221.01 523.63M231.28 519.78L231.28 518.77L232.27 517.62L235.57 517.62L236.56 518.77L236.56 520.85L231.28 528.40L236.56 528.40"/>
<path class="f" d="M46.42 537.72L46.42 536.72L47.41 535.56L50.71 535.56L51.70 536.72L51.70 538.79L46.42 546.34L51.70 546.34M57.77 545.26L58.37 545.26L58.37 544.65L57.77 544.65ZM57.77 538.95L58.37 538.95L58.37 538.33L57.77 538.33ZM99.09 537.10L100.41 535.56L100.41 546.34M99.09 546.34L101.99 546.34M108.04 535.56L108.04 542.64L113.32 542.64M112.00 535.56L112.00 546.34M120.29 546.42L120.89 546.42L120.89 545.80L120.29 545.80ZM129.24 546.34L133.20 546.34L133.86 545.57L133.86 536.33L133.20 535.56L129.24 535.56L128.58 536.33L128.58 545.57ZM128.58 546.34L133.99 535.25M139.51 546.34L143.47 546.34L144.13 545.57L144.13 536.33L143.47 535.56L139.51 535.56L138.85 536.33L138.85 545.57ZM138.85 546.34L144.26 535.25M179.80 540.95L185.21 540.95M190.20 535.56L195.48 535.56L193.90 541.26L192.84 546.34M202.71 546.34L205.75 542.03L205.75 536.95L204.56 535.56L201.66 535.56L200.47 536.95L200.47 540.33L201.66 541.72L204.56 541.72L205.75 540.33M212.72 546.42L213.32 546.42L213.32 545.80L212.72 545.80ZM221.01 535.56L221.01 542.64L226.29 542.64M224.97 535.56L224.97 546.34M231.28 535.56L231.28 542.64L236.56 542.64M235.24 535.56L235.24 546.34"/>
<path class="f" d="M46.42 553.50L51.70 553.50L48.53 557.81L50.51 557.81L51.70 559.20L51.70 562.89L50.51 564.28L47.61 564.28L46.42 562.89M57.77 563.20L58.37 563.20L58.37 562.59L57.77 562.59ZM57.77 556.89L58.37 556.89L58.37 556.27L57.77 556.27ZM97.77 555.66L97.77 554.65L98.76 553.50L102.06 553.50L103.05 554.65L103.05 556.73L97.77 564.28L103.05 564.28M109.23 558.43L108.30 557.35L108.30 554.73L109.36 553.50L112.00 553.50L113.06 554.73L113.06 557.35L112.13 558.43L109.23 558.43L108.04 559.81L108.04 562.89L109.23 564.28L112.13 564.28L113.32 562.89L113.32 559.81L112.13 558.43M120.29 564.36L120.89 564.36L120.89 563.74L120.29 563.74ZM129.24 564.28L133.20 564.28L133.86 563.51L133.86 554.27L133.20 553.50L129.24 553.50L128.58 554.27L128.58 563.51ZM128.58 564.28L133.99 553.19M139.51 564.28L143.47 564.28L144.13 563.51L144.13 554.27L143.47 553.50L139.51 553.50L138.85 554.27L138.85 563.51ZM138.85 564.28L144.26 553.19M179.80 558.89L185.21 558.89M191.39 558.43L190.46 557.35L190.46 554.73L191.52 553.50L194.16 553.50L195.22 554.73L195.22 557.35L194.29 558.43L191.39 558.43L190.20 559.81L190.20 562.89L191.39 564.28L194.29 564.28L195.48 562.89L195.48 559.81L194.29 558.43M201.13 564.28L205.09 564.28L205.75 563.51L205.75 554.27L205.09 553.50L201.13 553.50L200.47 554.27L200.47 563.51ZM200.47 564.28L205.88 553.19M212.72 564.36L213.32 564.36L213.32 563.74L212.72 563.74ZM224.97 553.50L224.44 553.50L221.01 557.81L221.01 562.89L222.20 564.28L225.10 564.28L226.29 562.89L226.29 559.51L225.10 558.12L222.20 558.12L221.01 559.51M231.28 555.66L231.28 554.65L232.27 553.50L235.57 553.50L236.56 554.65L236.56 556.73L231.28 564.28L236.56 564.28"/>
<path class="f" d="M46.42 571.44L46.42 578.52L51.70 578.52M50.38 571.44L50.38 582.22M57.77 581.14L58.37 581.14L58.37 580.53L57.77 580.53ZM57.77 574.83L58.37 574.83L58.37 574.21L57.77 574.21ZM103.05 571.44L97.77 571.44L97.77 575.91L101.86 575.91L103.05 577.29L103.05 580.83L101.86 582.22L98.96 582.22L97.77 580.83M108.70 582.22L112.66 582.22L113.32 581.45L113.32 572.21L112.66 571.44L108.70 571.44L108.04 572.21L108.04 581.45ZM108.04 582.22L113.45 571.13M120.29 582.30L120.89 582.30L120.89 581.68L120.29 581.68ZM129.24 582.22L133.20 582.22L133.86 581.45L133.86 572.21L133.20 571.44L129.24 571.44L128.58 572.21L128.58 581.45ZM128.58 582.22L133.99 571.13M139.51 582.22L143.47 582.22L144.13 581.45L144.13 572.21L143.47 571.44L139.51 571.44L138.85 572.21L138.85 581.45ZM138.85 582.22L144.26 571.13M179.80 576.83L185.21 576.83M194.16 571.44L193.63 571.44L190.20 575.75L190.20 580.83L191.39 582.22L194.29 582.22L195.48 580.83L195.48 577.45L194.29 576.06L191.39 576.06L190.20 577.45M200.47 571.44L205.75 571.44L204.17 577.14L203.11 582.22M212.72 582.30L213.32 582.30L213.32 581.68L212.72 581.68ZM226.29 571.44L221.01 571.44L221.01 575.91L225.10 575.91L226.29 577.29L226.29 580.83L225.10 582.22L222.20 582.22L221.01 580.83M232.47 576.37L231.54 575.29L231.54 572.67L232.60 571.44L235.24 571.44L236.30 572.67L236.30 575.29L235.37 576.37L232.47 576.37L231.28 577.75L231.28 580.83L232.47 582.22L235.37 582.22L236.56 580.83L236.56 577.75L235.37 576.37"/>
<path class="f" d="M51.70 589.38L46.42 589.38L46.42 593.85L50.51 593.85L51.70 595.23L51.70 598.77L50.51 600.16L47.61 600.16L46.42 598.77M57.77 599.08L58.37 599.08L58.37 598.47L57.77 598.47ZM57.77 592.77L58.37 592.77L58.37 592.15L57.77 592.15ZM88.82 590.92L90.14 589.38L90.14 600.16M88.82 600.16L91.72 600.16M97.77 589.38L97.77 596.46L103.05 596.46M101.73 589.38L101.73 600.16M113.32 589.38L108.04 589.38L108.04 593.85L112.13 593.85L113.32 595.23L113.32 598.77L112.13 600.16L109.23 600.16L108.04 598.77M120.29 600.24L120.89 600.24L120.89 599.62L120.29 599.62ZM129.24 600.16L133.20 600.16L133.86 599.39L133.86 590.15L133.20 589.38L129.24 589.38L128.58 590.15L128.58 599.39ZM128.58 600.16L133.99 589.07M139.51 600.16L143.47 600.16L144.13 599.39L144.13 590.15L143.47 589.38L139.51 589.38L138.85 590.15L138.85 599.39ZM138.85 600.16L144.26 589.07M179.80 594.77L185.21 594.77M190.20 591.54L190.20 590.53L191.19 589.38L194.49 589.38L195.48 590.53L195.48 592.61L190.20 600.16L195.48 600.16M202.71 600.16L205.75 595.85L205.75 590.77L204.56 589.38L201.66 589.38L200.47 590.77L200.47 594.15L201.66 595.54L204.56 595.54L205.75 594.15M212.72 600.24L213.32 600.24L213.32 599.62L212.72 599.62ZM221.01 589.38L226.29 589.38L224.71 595.08L223.65 600.16M232.60 590.92L233.92 589.38L233.92 600.16M232.60 600.16L235.50 600.16"/>
<path class="f" d="M50.38 607.32L49.85 607.32L46.42 611.63L46.42 616.71L47.61 618.10L50.51 618.10L51.70 616.71L51.70 613.33L50.51 611.94L47.61 611.94L46.42 613.33M57.77 617.02L58.37 617.02L58.37 616.41L57.77 616.41ZM57.77 610.71L58.37 610.71L58.37 610.09L57.77 610.09ZM87.50 607.32L87.50 614.40L92.78 614.40M91.46 607.32L91.46 618.10M97.77 607.32L103.05 607.32L99.88 611.63L101.86 611.63L103.05 613.02L103.05 616.71L101.86 618.10L98.96 618.10L97.77 616.71M113.32 607.32L108.04 607.32L108.04 611.79L112.13 611.79L113.32 613.17L113.32 616.71L112.13 618.10L109.23 618.10L108.04 616.71M120.29 618.18L120.89 618.18L120.89 617.56L120.29 617.56ZM129.24 618.10L133.20 618.10L133.86 617.33L133.86 608.09L133.20 607.32L129.24 607.32L128.58 608.09L128.58 617.33ZM128.58 618.10L133.99 607.01M139.51 618.10L143.47 618.10L144.13 617.33L144.13 608.09L143.47 607.32L139.51 607.32L138.85 608.09L138.85 617.33ZM138.85 618.10L144.26 607.01M190.07 612.71L195.48 612.71M201.79 608.86L203.11 607.32L203.11 618.10M201.79 618.10L204.69 618.10M212.72 618.18L213.32 618.18L213.32 617.56L212.72 617.56ZM221.01 607.32L221.01 614.40L226.29 614.40M224.97 607.32L224.97 618.10M231.28 607.32L236.56 607.32L233.39 611.63L235.37 611.63L236.56 613.02L236.56 616.71L235.37 618.10L232.47 618.10L231.28 616.71"/>
<path class="f" d="M46.42 625.26L51.70 625.26L50.12 630.96L49.06 636.04M56.57 628.03L60.77 631.57L56.57 635.12M78.55 626.80L79.87 625.26L79.87 636.04M78.55 636.04L81.45 636.04M87.50 627.42L87.50 626.41L88.49 625.26L91.79 625.26L92.78 626.41L92.78 628.49L87.50 636.04L92.78 636.04M103.05 625.26L97.77 625.26L97.77 629.73L101.86 629.73L103.05 631.11L103.05 634.65L101.86 636.04L98.96 636.04L97.77 634.65M108.70 636.04L112.66 636.04L113.32 635.27L113.32 626.03L112.66 625.26L108.70 625.26L108.04 626.03L108.04 635.27ZM108.04 636.04L113.45 624.95M120.29 636.12L120.89 636.12L120.89 635.50L120.29 635.50ZM129.24 636.04L133.20 636.04L133.86 635.27L133.86 626.03L133.20 625.26L129.24 625.26L128.58 626.03L128.58 635.27ZM128.58 636.04L133.99 624.95M139.51 636.04L143.47 636.04L144.13 635.27L144.13 626.03L143.47 625.26L139.51 625.26L138.85 626.03L138.85 635.27ZM138.85 636.04L144.26 624.95M179.80 630.65L185.21 630.65M195.48 625.26L190.20 625.26L190.20 629.73L194.29 629.73L195.48 631.11L195.48 634.65L194.29 636.04L191.39 636.04L190.20 634.65M201.66 630.19L200.73 629.11L200.73 626.49L201.79 625.26L204.43 625.26L205.49 626.49L205.49 629.11L204.56 630.19L201.66 630.19L200.47 631.57L200.47 634.65L201.66 636.04L204.56 636.04L205.75 634.65L205.75 631.57L204.56 630.19M212.72 636.12L213.32 636.12L213.32 635.50L212.72 635.50ZM221.01 625.26L226.29 625.26L223.12 629.57L225.10 629.57L226.29 630.96L226.29 634.65L225.10 636.04L222.20 636.04L221.01 634.65M231.28 627.42L231.28 626.41L232.27 625.26L235.57 625.26L236.56 626.41L236.56 628.49L231.28 636.04L236.56 636.04"/>
<path class="f" d="M330.02 501.08L330.02 500.07L331.01 498.92L334.31 498.92L335.30 500.07L335.30 502.15L330.02 509.70L335.30 509.70M341.37 508.62L341.97 508.62L341.97 508.01L341.37 508.01ZM341.37 502.31L341.97 502.31L341.97 501.69L341.37 501.69ZM349.84 509.70L349.84 498.92L352.84 504.16L355.84 498.92L355.84 509.70M360.11 498.92L360.11 509.70M360.11 507.48L365.51 503.54M362.21 505.94L365.96 509.70M370.38 509.70L370.38 503.54M370.38 505.14L372.33 503.54L375.18 503.54L376.38 504.53M395.42 498.00L393.32 500.15L393.32 508.47L395.42 510.62M401.19 509.70L401.19 498.92L404.19 504.16L407.19 498.92L407.19 509.70M411.46 509.70L411.46 498.92M417.46 509.70L417.46 498.92M411.46 504.31L417.46 504.31M421.73 503.54L427.73 503.54L421.73 509.70L427.73 509.70M433.50 498.00L435.60 500.15L435.60 508.47L433.50 510.62M489.35 498.92L489.35 509.70L484.55 509.70L483.35 508.71L483.35 504.53L484.55 503.54L488.15 503.54L489.35 504.53M494.22 509.70L494.22 498.92L498.27 498.92L499.35 500.15L499.35 502.92L498.27 504.16L494.22 504.16M498.27 504.16L498.54 504.16L499.62 505.39L499.62 508.47L498.54 509.70L494.22 509.70"/>
<path class="f" d="M331.34 519.16L332.66 517.62L332.66 528.40M331.34 528.40L334.24 528.40M340.17 520.39L344.37 523.93L340.17 527.48M392.96 519.16L394.28 517.62L394.28 528.40M392.96 528.40L395.86 528.40M403.89 528.48L404.49 528.48L404.49 527.86L403.89 527.86ZM413.37 522.55L412.44 521.47L412.44 518.85L413.50 517.62L416.14 517.62L417.20 518.85L417.20 521.47L416.27 522.55L413.37 522.55L412.18 523.93L412.18 527.01L413.37 528.40L416.27 528.40L417.46 527.01L417.46 523.93L416.27 522.55M423.11 528.40L427.07 528.40L427.73 527.63L427.73 518.39L427.07 517.62L423.11 517.62L422.45 518.39L422.45 527.63ZM422.45 528.40L427.86 517.31M484.73 528.40L488.69 528.40L489.35 527.63L489.35 518.39L488.69 517.62L484.73 517.62L484.07 518.39L484.07 527.63ZM484.07 528.40L489.48 517.31M496.32 528.48L496.92 528.48L496.92 527.86L496.32 527.86ZM505.27 528.40L509.23 528.40L509.89 527.63L509.89 518.39L509.23 517.62L505.27 517.62L504.61 518.39L504.61 527.63ZM504.61 528.40L510.02 517.31M514.88 517.62L520.16 517.62L516.99 521.93L518.97 521.93L520.16 523.32L520.16 527.01L518.97 528.40L516.07 528.40L514.88 527.01"/>
<path class="f" d="M330.02 537.72L330.02 536.72L331.01 535.56L334.31 535.56L335.30 536.72L335.30 538.79L330.02 546.34L335.30 546.34M341.37 545.26L341.97 545.26L341.97 544.65L341.37 544.65ZM341.37 538.95L341.97 538.95L341.97 538.33L341.37 538.33ZM382.69 537.10L384.01 535.56L384.01 546.34M382.69 546.34L385.59 546.34M391.64 535.56L391.64 542.64L396.92 542.64M395.60 535.56L395.60 546.34M403.89 546.42L404.49 546.42L404.49 545.80L403.89 545.80ZM412.84 546.34L416.80 546.34L417.46 545.57L417.46 536.33L416.80 535.56L412.84 535.56L412.18 536.33L412.18 545.57ZM412.18 546.34L417.59 535.25M423.11 546.34L427.07 546.34L427.73 545.57L427.73 536.33L427.07 535.56L423.11 535.56L422.45 536.33L422.45 545.57ZM422.45 546.34L427.86 535.25M473.67 540.95L479.08 540.95M484.73 546.34L488.69 546.34L489.35 545.57L489.35 536.33L488.69 535.56L484.73 535.56L484.07 536.33L484.07 545.57ZM484.07 546.34L489.48 535.25M496.32 546.42L496.92 546.42L496.92 545.80L496.32 545.80ZM505.27 546.34L509.23 546.34L509.89 545.57L509.89 536.33L509.23 535.56L505.27 535.56L504.61 536.33L504.61 545.57ZM504.61 546.34L510.02 535.25M518.84 535.56L518.31 535.56L514.88 539.87L514.88 544.95L516.07 546.34L518.97 546.34L520.16 544.95L520.16 541.57L518.97 540.18L516.07 540.18L514.88 541.57"/>
<path class="f" d="M330.02 553.50L335.30 553.50L332.13 557.81L334.11 557.81L335.30 559.20L335.30 562.89L334.11 564.28L331.21 564.28L330.02 562.89M341.37 563.20L341.97 563.20L341.97 562.59L341.37 562.59ZM341.37 556.89L341.97 556.89L341.97 556.27L341.37 556.27ZM381.37 555.66L381.37 554.65L382.36 553.50L385.66 553.50L386.65 554.65L386.65 556.73L381.37 564.28L386.65 564.28M392.83 558.43L391.90 557.35L391.90 554.73L392.96 553.50L395.60 553.50L396.66 554.73L396.66 557.35L395.73 558.43L392.83 558.43L391.64 559.81L391.64 562.89L392.83 564.28L395.73 564.28L396.92 562.89L396.92 559.81L395.73 558.43M403.89 564.36L404.49 564.36L404.49 563.74L403.89 563.74ZM412.84 564.28L416.80 564.28L417.46 563.51L417.46 554.27L416.80 553.50L412.84 553.50L412.18 554.27L412.18 563.51ZM412.18 564.28L417.59 553.19M423.11 564.28L427.07 564.28L427.73 563.51L427.73 554.27L427.07 553.50L423.11 553.50L422.45 554.27L422.45 563.51ZM422.45 564.28L427.86 553.19M473.67 558.89L479.08 558.89M484.73 564.28L488.69 564.28L489.35 563.51L489.35 554.27L488.69 553.50L484.73 553.50L484.07 554.27L484.07 563.51ZM484.07 564.28L489.48 553.19M496.32 564.36L496.92 564.36L496.92 563.74L496.32 563.74ZM505.27 564.28L509.23 564.28L509.89 563.51L509.89 554.27L509.23 553.50L505.27 553.50L504.61 554.27L504.61 563.51ZM504.61 564.28L510.02 553.19M514.88 553.50L520.16 553.50L516.99 557.81L518.97 557.81L520.16 559.20L520.16 562.89L518.97 564.28L516.07 564.28L514.88 562.89"/>
<path class="f" d="M330.02 571.44L330.02 578.52L335.30 578.52M333.98 571.44L333.98 582.22M341.37 581.14L341.97 581.14L341.97 580.53L341.37 580.53ZM341.37 574.83L341.97 574.83L341.97 574.21L341.37 574.21ZM386.65 571.44L381.37 571.44L381.37 575.91L385.46 575.91L386.65 577.29L386.65 580.83L385.46 582.22L382.56 582.22L381.37 580.83M392.30 582.22L396.26 582.22L396.92 581.45L396.92 572.21L396.26 571.44L392.30 571.44L391.64 572.21L391.64 581.45ZM391.64 582.22L397.05 571.13M403.89 582.30L404.49 582.30L404.49 581.68L403.89 581.68ZM412.84 582.22L416.80 582.22L417.46 581.45L417.46 572.21L416.80 571.44L412.84 571.44L412.18 572.21L412.18 581.45ZM412.18 582.22L417.59 571.13M423.11 582.22L427.07 582.22L427.73 581.45L427.73 572.21L427.07 571.44L423.11 571.44L422.45 572.21L422.45 581.45ZM422.45 582.22L427.86 571.13M473.67 576.83L479.08 576.83M484.73 582.22L488.69 582.22L489.35 581.45L489.35 572.21L488.69 571.44L484.73 571.44L484.07 572.21L484.07 581.45ZM484.07 582.22L489.48 571.13M496.32 582.30L496.92 582.30L496.92 581.68L496.32 581.68ZM505.93 572.98L507.25 571.44L507.25 582.22M505.93 582.22L508.83 582.22M515.54 582.22L519.50 582.22L520.16 581.45L520.16 572.21L519.50 571.44L515.54 571.44L514.88 572.21L514.88 581.45ZM514.88 582.22L520.29 571.13"/>
<path class="f" d="M335.30 589.38L330.02 589.38L330.02 593.85L334.11 593.85L335.30 595.23L335.30 598.77L334.11 600.16L331.21 600.16L330.02 598.77M341.37 599.08L341.97 599.08L341.97 598.47L341.37 598.47ZM341.37 592.77L341.97 592.77L341.97 592.15L341.37 592.15ZM372.42 590.92L373.74 589.38L373.74 600.16M372.42 600.16L375.32 600.16M381.37 589.38L381.37 596.46L386.65 596.46M385.33 589.38L385.33 600.16M396.92 589.38L391.64 589.38L391.64 593.85L395.73 593.85L396.92 595.23L396.92 598.77L395.73 600.16L392.83 600.16L391.64 598.77M403.89 600.24L404.49 600.24L404.49 599.62L403.89 599.62ZM412.84 600.16L416.80 600.16L417.46 599.39L417.46 590.15L416.80 589.38L412.84 589.38L412.18 590.15L412.18 599.39ZM412.18 600.16L417.59 589.07M423.11 600.16L427.07 600.16L427.73 599.39L427.73 590.15L427.07 589.38L423.11 589.38L422.45 590.15L422.45 599.39ZM422.45 600.16L427.86 589.07M473.67 594.77L479.08 594.77M484.73 600.16L488.69 600.16L489.35 599.39L489.35 590.15L488.69 589.38L484.73 589.38L484.07 590.15L484.07 599.39ZM484.07 600.16L489.48 589.07M496.32 600.24L496.92 600.24L496.92 599.62L496.32 599.62ZM504.61 591.54L504.61 590.53L505.60 589.38L508.90 589.38L509.89 590.53L509.89 592.61L504.61 600.16L509.89 600.16M516.07 594.31L515.14 593.23L515.14 590.61L516.20 589.38L518.84 589.38L519.90 590.61L519.90 593.23L518.97 594.31L516.07 594.31L514.88 595.69L514.88 598.77L516.07 600.16L518.97 600.16L520.16 598.77L520.16 595.69L518.97 594.31"/>
<path class="f" d="M333.98 607.32L333.45 607.32L330.02 611.63L330.02 616.71L331.21 618.10L334.11 618.10L335.30 616.71L335.30 613.33L334.11 611.94L331.21 611.94L330.02 613.33M341.37 617.02L341.97 617.02L341.97 616.41L341.37 616.41ZM341.37 610.71L341.97 610.71L341.97 610.09L341.37 610.09ZM371.10 607.32L371.10 614.40L376.38 614.40M375.06 607.32L375.06 618.10M381.37 607.32L386.65 607.32L383.48 611.63L385.46 611.63L386.65 613.02L386.65 616.71L385.46 618.10L382.56 618.10L381.37 616.71M396.92 607.32L391.64 607.32L391.64 611.79L395.73 611.79L396.92 613.17L396.92 616.71L395.73 618.10L392.83 618.10L391.64 616.71M403.89 618.18L404.49 618.18L404.49 617.56L403.89 617.56ZM412.84 618.10L416.80 618.10L417.46 617.33L417.46 608.09L416.80 607.32L412.84 607.32L412.18 608.09L412.18 617.33ZM412.18 618.10L417.59 607.01M423.11 618.10L427.07 618.10L427.73 617.33L427.73 608.09L427.07 607.32L423.11 607.32L422.45 608.09L422.45 617.33ZM422.45 618.10L427.86 607.01M463.40 612.71L468.81 612.71M473.80 609.48L473.80 608.48L474.79 607.32L478.09 607.32L479.08 608.48L479.08 610.55L473.80 618.10L479.08 618.10M484.73 618.10L488.69 618.10L489.35 617.33L489.35 608.09L488.69 607.32L484.73 607.32L484.07 608.09L484.07 617.33ZM484.07 618.10L489.48 607.01M496.32 618.18L496.92 618.18L496.92 617.56L496.32 617.56ZM505.93 608.86L507.25 607.32L507.25 618.10M505.93 618.10L508.83 618.10M517.12 618.10L520.16 613.79L520.16 608.71L518.97 607.32L516.07 607.32L514.88 608.71L514.88 612.09L516.07 613.48L518.97 613.48L520.16 612.09"/>
<path class="f" d="M330.02 625.26L335.30 625.26L333.72 630.96L332.66 636.04M341.37 634.96L341.97 634.96L341.97 634.35L341.37 634.35ZM341.37 628.65L341.97 628.65L341.97 628.03L341.37 628.03ZM362.15 626.80L363.47 625.26L363.47 636.04M362.15 636.04L365.05 636.04M371.10 627.42L371.10 626.41L372.09 625.26L375.39 625.26L376.38 626.41L376.38 628.49L371.10 636.04L376.38 636.04M386.65 625.26L381.37 625.26L381.37 629.73L385.46 629.73L386.65 631.11L386.65 634.65L385.46 636.04L382.56 636.04L381.37 634.65M392.30 636.04L396.26 636.04L396.92 635.27L396.92 626.03L396.26 625.26L392.30 625.26L391.64 626.03L391.64 635.27ZM391.64 636.04L397.05 624.95M403.89 636.12L404.49 636.12L404.49 635.50L403.89 635.50ZM412.84 636.04L416.80 636.04L417.46 635.27L417.46 626.03L416.80 625.26L412.84 625.26L412.18 626.03L412.18 635.27ZM412.18 636.04L417.59 624.95M423.11 636.04L427.07 636.04L427.73 635.27L427.73 626.03L427.07 625.26L423.11 625.26L422.45 626.03L422.45 635.27ZM422.45 636.04L427.86 624.95M484.07 625.26L484.07 632.34L489.35 632.34M488.03 625.26L488.03 636.04M496.32 636.12L496.92 636.12L496.92 635.50L496.32 635.50ZM504.61 625.26L509.89 625.26L506.72 629.57L508.70 629.57L509.89 630.96L509.89 634.65L508.70 636.04L505.80 636.04L504.61 634.65M514.88 627.42L514.88 626.41L515.87 625.26L519.17 625.26L520.16 626.41L520.16 628.49L514.88 636.04L520.16 636.04"/>
<path class="f" d="M331.21 648.13L330.28 647.05L330.28 644.43L331.34 643.20L333.98 643.20L335.04 644.43L335.04 647.05L334.11 648.13L331.21 648.13L330.02 649.51L330.02 652.59L331.21 653.98L334.11 653.98L335.30 652.59L335.30 649.51L334.11 648.13M341.37 652.90L341.97 652.90L341.97 652.29L341.37 652.29ZM341.37 646.59L341.97 646.59L341.97 645.97L341.37 645.97ZM372.42 644.74L373.74 643.20L373.74 653.98M372.42 653.98L375.32 653.98M386.65 643.20L381.37 643.20L381.37 647.67L385.46 647.67L386.65 649.05L386.65 652.59L385.46 653.98L382.56 653.98L381.37 652.59M392.30 653.98L396.26 653.98L396.92 653.21L396.92 643.97L396.26 643.20L392.30 643.20L391.64 643.97L391.64 653.21ZM391.64 653.98L397.05 642.89M403.89 654.06L404.49 654.06L404.49 653.44L403.89 653.44ZM413.50 644.74L414.82 643.20L414.82 653.98M413.50 653.98L416.40 653.98M422.45 643.20L427.73 643.20L424.56 647.51L426.54 647.51L427.73 648.90L427.73 652.59L426.54 653.98L423.64 653.98L422.45 652.59M473.67 648.59L479.08 648.59M484.73 653.98L488.69 653.98L489.35 653.21L489.35 643.97L488.69 643.20L484.73 643.20L484.07 643.97L484.07 653.21ZM484.07 653.98L489.48 642.89M496.32 654.06L496.92 654.06L496.92 653.44L496.32 653.44ZM504.61 643.20L509.89 643.20L506.72 647.51L508.70 647.51L509.89 648.90L509.89 652.59L508.70 653.98L505.80 653.98L504.61 652.59M515.54 653.98L519.50 653.98L520.16 653.21L520.16 643.97L519.50 643.20L515.54 643.20L514.88 643.97L514.88 653.21ZM514.88 653.98L520.29 642.89"/>
</g>
<g>
<text transform="translate(38.90,223.40) scale(1.0098,1)" xml:space="preserve">1</text>
<text transform="translate(45.00,236.80) scale(1.0098,1)" xml:space="preserve">2</text>
<text transform="translate(50.20,239.20) scale(1.0098,1)" xml:space="preserve">3</text>
<text transform="translate(59.50,212.30) scale(1.0098,1)" xml:space="preserve">4</text>
<text transform="translate(100.30,135.20) scale(1.0098,1)" xml:space="preserve">5</text>
<text transform="translate(227.90,75.60) scale(1.0098,1)" xml:space="preserve">6</text>
<text transform="translate(583.90,143.00) scale(1.0098,1)" xml:space="preserve">7</text>
<text transform="translate(38.70,248.50) scale(1.0098,1)" xml:space="preserve">1</text>
<text transform="translate(43.30,298.60) scale(1.0098,1)" xml:space="preserve">2</text>
<text transform="translate(50.60,298.60) scale(1.0098,1)" xml:space="preserve">3</text>
<text transform="translate(59.60,298.70) scale(1.0098,1)" xml:space="preserve">4</text>
<text transform="translate(100.90,300.70) scale(1.0098,1)" xml:space="preserve">5</text>
<text transform="translate(227.90,382.40) scale(1.0098,1)" xml:space="preserve">6</text>
<text transform="translate(103.10,300.90) scale(1.0098,1)" xml:space="preserve">8</text>
<text transform="translate(584.00,295.80) scale(1.0098,1)" xml:space="preserve">7</text>
<text transform="translate(611.90,170.90) scale(1.0098,1)" xml:space="preserve">1</text>
<text transform="translate(612.10,282.20) scale(1.0098,1)" xml:space="preserve">2</text>
<text transform="translate(51.40,16.90) scale(1.0098,1)" xml:space="preserve">1:Transmission</text>
<text transform="translate(240.70,16.90) scale(1.0098,1)" xml:space="preserve">Log Mag</text>
<text transform="translate(329.50,16.90) scale(1.0098,1)" xml:space="preserve">10.0 dB/</text>
<text transform="translate(429.50,16.90) scale(1.0098,1)" xml:space="preserve">Ref</text>
<text transform="translate(490.50,16.90) scale(1.0098,1)" xml:space="preserve">0.00 dB</text>
<text transform="translate(587.50,16.90) scale(1.0098,1)" xml:space="preserve">C</text>
<text transform="translate(51.10,264.20) scale(1.0216,1)" xml:space="preserve">2:Reflection</text>
<text transform="translate(240.70,264.20) scale(1.0098,1)" xml:space="preserve">Log Mag</text>
<text transform="translate(339.70,264.20) scale(1.0098,1)" xml:space="preserve">5.0 dB/</text>
<text transform="translate(429.00,264.20) scale(1.0098,1)" xml:space="preserve">Ref</text>
<text transform="translate(490.50,264.20) scale(1.0098,1)" xml:space="preserve">0.00 dB</text>
<text transform="translate(587.50,264.20) scale(1.0098,1)" xml:space="preserve">C</text>
<text transform="translate(51.50,38.30) scale(1.0098,1)" xml:space="preserve">TSA-6011 Port 350-500MHz</text>
<text transform="translate(400.30,38.30) scale(1.0029,1)" xml:space="preserve">Ch1:Mkr7 1250.000 MHz</text>
<text transform="translate(499.30,58.20) scale(1.0098,1)" xml:space="preserve">-58.32 dB</text>
<text transform="translate(399.70,283.50) scale(1.0039,1)" xml:space="preserve">Ch2:Mkr1    1.800 MHz</text>
<text transform="translate(520.10,305.10) scale(1.0098,1)" xml:space="preserve">0.03 dB</text>
<text transform="translate(42.30,243.80) scale(1.0098,1)" xml:space="preserve">Start 1.000 MHz</text>
<text transform="translate(433.50,243.80) scale(1.0098,1)" xml:space="preserve">Stop 1 300.000 MHz</text>
<text transform="translate(42.30,491.00) scale(1.0098,1)" xml:space="preserve">Start 1.000 MHz</text>
<text transform="translate(433.50,491.00) scale(1.0098,1)" xml:space="preserve">Stop 1 300.000 MHz</text>
<text transform="translate(-1.50,52.00) scale(1.0098,1)" xml:space="preserve">dB</text>
<text transform="translate(9.10,69.70) scale(1.0098,1)" xml:space="preserve">-10</text>
<text transform="translate(9.10,90.28) scale(1.0098,1)" xml:space="preserve">-20</text>
<text transform="translate(9.10,110.86) scale(1.0098,1)" xml:space="preserve">-30</text>
<text transform="translate(9.10,131.44) scale(1.0098,1)" xml:space="preserve">-40</text>
<text transform="translate(9.10,152.02) scale(1.0098,1)" xml:space="preserve">-50</text>
<text transform="translate(9.10,172.60) scale(1.0098,1)" xml:space="preserve">-60</text>
<text transform="translate(9.10,193.18) scale(1.0098,1)" xml:space="preserve">-70</text>
<text transform="translate(-0.70,215.20) scale(1.0098,1)" xml:space="preserve">Abs</text>
<text transform="translate(-1.50,298.80) scale(1.0098,1)" xml:space="preserve">dB</text>
<text transform="translate(9.10,316.30) scale(1.0098,1)" xml:space="preserve">-10</text>
<text transform="translate(9.10,336.30) scale(1.0098,1)" xml:space="preserve">-15</text>
<text transform="translate(9.10,357.30) scale(1.0098,1)" xml:space="preserve">-20</text>
<text transform="translate(9.10,377.30) scale(1.0098,1)" xml:space="preserve">-25</text>
<text transform="translate(9.10,398.30) scale(1.0098,1)" xml:space="preserve">-30</text>
<text transform="translate(9.10,418.30) scale(1.0098,1)" xml:space="preserve">-35</text>
<text transform="translate(9.10,439.30) scale(1.0098,1)" xml:space="preserve">-40</text>
<text transform="translate(-0.70,461.60) scale(1.0098,1)" xml:space="preserve">Abs</text>
<text transform="translate(42.80,510.70) scale(1.0069,1)" xml:space="preserve">1:Mkr (MHz)    dB</text>
<text transform="translate(42.80,529.40) scale(1.0069,1)" xml:space="preserve">1:    1.80   -73.62</text>
<text transform="translate(42.80,547.34) scale(1.0069,1)" xml:space="preserve">2:   14.00   -79.44</text>
<text transform="translate(42.80,565.28) scale(1.0069,1)" xml:space="preserve">3:   28.00   -80.62</text>
<text transform="translate(42.80,583.22) scale(1.0069,1)" xml:space="preserve">4:   50.00   -67.58</text>
<text transform="translate(42.80,601.16) scale(1.0069,1)" xml:space="preserve">5:  145.00   -29.71</text>
<text transform="translate(42.80,619.10) scale(1.0069,1)" xml:space="preserve">6:  435.00    -1.43</text>
<text transform="translate(42.80,637.04) scale(1.0069,1)" xml:space="preserve">7&gt; 1250.00   -58.32</text>
<text transform="translate(326.40,510.70) scale(1.0069,1)" xml:space="preserve">2:Mkr (MHz)    dB</text>
<text transform="translate(326.40,529.40) scale(1.0069,1)" xml:space="preserve">1&gt;    1.80     0.03</text>
<text transform="translate(326.40,547.34) scale(1.0069,1)" xml:space="preserve">2:   14.00    -0.06</text>
<text transform="translate(326.40,565.28) scale(1.0069,1)" xml:space="preserve">3:   28.00    -0.03</text>
<text transform="translate(326.40,583.22) scale(1.0069,1)" xml:space="preserve">4:   50.00    -0.10</text>
<text transform="translate(326.40,601.16) scale(1.0069,1)" xml:space="preserve">5:  145.00    -0.28</text>
<text transform="translate(326.40,619.10) scale(1.0069,1)" xml:space="preserve">6:  435.00   -20.19</text>
<text transform="translate(326.40,637.04) scale(1.0069,1)" xml:space="preserve">7: 1250.00     4.32</text>
<text transform="translate(326.40,654.98) scale(1.0069,1)" xml:space="preserve">8:  150.13    -0.30</text>
</g>
</svg>
</body></html>
